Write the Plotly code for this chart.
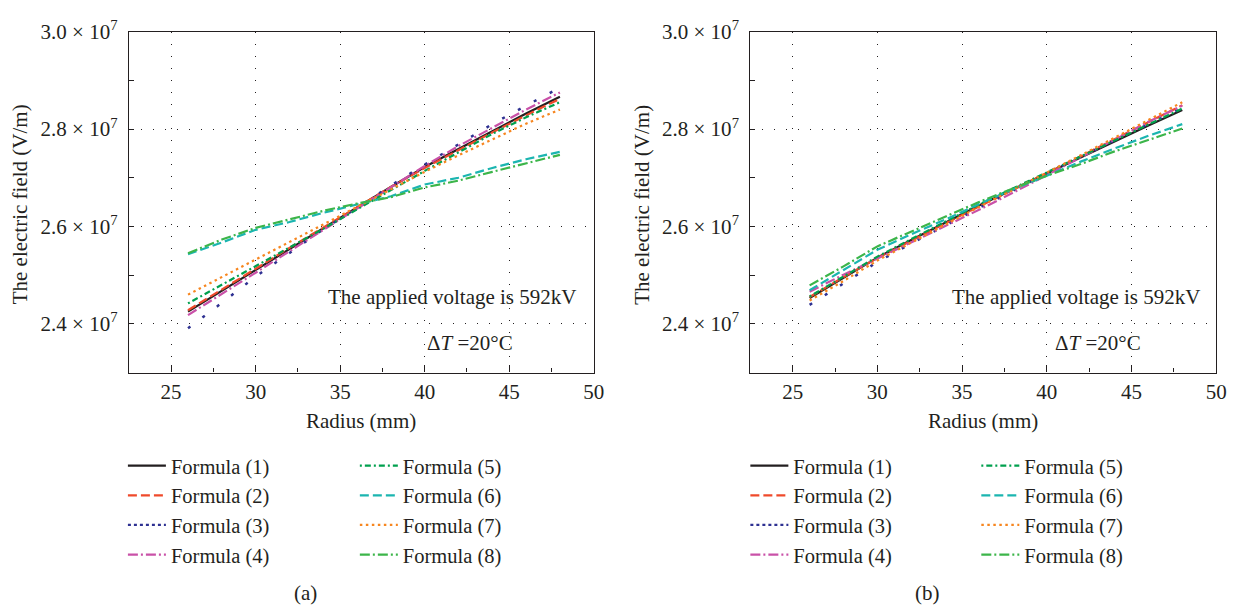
import plotly.graph_objects as go
import numpy as np

radius = [26, 28, 30, 32, 34, 36, 38, 40, 42, 44, 46, 48]
names = ["Formula (1)", "Formula (2)", "Formula (3)", "Formula (4)",
         "Formula (5)", "Formula (6)", "Formula (7)", "Formula (8)"]

# panel (a) electric field, units of 1e7 V/m
a_f1 = [2.425, 2.468, 2.511, 2.553, 2.596, 2.639, 2.681, 2.722, 2.759, 2.796, 2.832, 2.866]
a_f2 = [2.428, 2.470, 2.513, 2.556, 2.598, 2.640, 2.681, 2.720, 2.757, 2.793, 2.828, 2.862]
a_f3 = [2.391, 2.443, 2.497, 2.546, 2.594, 2.638, 2.684, 2.727, 2.769, 2.810, 2.848, 2.885]
a_f4 = [2.418, 2.461, 2.505, 2.549, 2.593, 2.637, 2.681, 2.724, 2.765, 2.803, 2.840, 2.875]
a_f5 = [2.442, 2.480, 2.518, 2.556, 2.595, 2.635, 2.675, 2.714, 2.752, 2.790, 2.824, 2.855]
a_f6 = [2.543, 2.567, 2.593, 2.609, 2.628, 2.645, 2.662, 2.686, 2.700, 2.720, 2.738, 2.753]
a_f7 = [2.460, 2.496, 2.532, 2.568, 2.604, 2.641, 2.677, 2.712, 2.746, 2.779, 2.811, 2.840]
a_f8 = [2.545, 2.573, 2.597, 2.614, 2.632, 2.647, 2.660, 2.680, 2.694, 2.712, 2.730, 2.747]

# panel (b)
b_f1 = [2.453, 2.495, 2.536, 2.572, 2.608, 2.643, 2.676, 2.709, 2.742, 2.774, 2.807, 2.839]
b_f2 = [2.455, 2.496, 2.535, 2.571, 2.606, 2.641, 2.675, 2.709, 2.744, 2.779, 2.814, 2.849]
b_f3 = [2.439, 2.483, 2.527, 2.565, 2.602, 2.638, 2.673, 2.709, 2.743, 2.777, 2.810, 2.843]
b_f4 = [2.466, 2.501, 2.534, 2.567, 2.600, 2.634, 2.669, 2.705, 2.741, 2.778, 2.815, 2.848]
b_f5 = [2.456, 2.497, 2.538, 2.574, 2.610, 2.645, 2.678, 2.711, 2.744, 2.777, 2.809, 2.842]
b_f6 = [2.469, 2.510, 2.552, 2.584, 2.614, 2.646, 2.676, 2.704, 2.733, 2.760, 2.786, 2.810]
b_f7 = [2.448, 2.488, 2.530, 2.567, 2.604, 2.640, 2.675, 2.710, 2.746, 2.782, 2.818, 2.855]
b_f8 = [2.479, 2.518, 2.559, 2.590, 2.620, 2.650, 2.678, 2.704, 2.728, 2.754, 2.778, 2.801]

x_ticks = [25, 30, 35, 40, 45, 50]
y_ticks = [2.4e7, 2.6e7, 2.8e7, 3.0e7]
y_tick_text = ["2.4 × 10<sup>7</sup>", "2.6 × 10<sup>7</sup>", "2.8 × 10<sup>7</sup>", "3.0 × 10<sup>7</sup>"]

colors = ["#231f20", "#ef4a2b", "#2e3192", "#c951a8", "#00a04e", "#1bb5b0", "#f7861f", "#3cb54a"]
dashes = ["solid", "9px,4px", "3px,15px", "10px,3px,2px,3px", "2px,3px,6px,3px", "9px,4px", "2.5px,3.5px", "10px,3px,2px,3px"]
legend_dashes = list(dashes)
legend_dashes[2] = "3px,3px"
widths = [2.2, 2.2, 2.5, 2.2, 2.2, 2.2, 2.2, 2.2]

FONT = "Liberation Serif"
fig = go.Figure()

panels = [
    ([a_f1, a_f2, a_f3, a_f4, a_f5, a_f6, a_f7, a_f8], "x", "y", ("legend", "legend2")),
    ([b_f1, b_f2, b_f3, b_f4, b_f5, b_f6, b_f7, b_f8], "x2", "y2", ("legend3", "legend4")),
]
for series, xa, ya, legs in panels:
    for i, vals in enumerate(series):
        leg = legs[0] if i < 4 else legs[1]
        yv = (np.array(vals) * 1e7).tolist()
        if i == 2:
            fig.add_trace(go.Scatter(x=radius, y=yv, mode="lines", xaxis=xa, yaxis=ya,
                                     line=dict(color=colors[i], width=widths[i], dash=dashes[i]),
                                     showlegend=False, hoverinfo="skip"))
            fig.add_trace(go.Scatter(x=[None], y=[None], mode="lines", xaxis=xa, yaxis=ya,
                                     name=names[i], legend=leg,
                                     line=dict(color=colors[i], width=2.2, dash=legend_dashes[i])))
        else:
            fig.add_trace(go.Scatter(x=radius, y=yv, mode="lines", xaxis=xa, yaxis=ya,
                                     name=names[i], legend=leg,
                                     line=dict(color=colors[i], width=widths[i], dash=dashes[i])))

W, H = 1247, 608
def px_x(p):
    return p / W
def px_y(p):
    return (H - p) / H

axis_common = dict(
    showline=True, linecolor="#231f20", linewidth=1.3, mirror=True,
    ticks="inside", tickcolor="#231f20", tickwidth=1,
    showgrid=True, gridcolor="#231f20", gridwidth=1, griddash="1px,11px",
    zeroline=False, tickfont=dict(family=FONT, size=21, color="#231f20"),
)
xaxis_cfg = dict(axis_common, range=[22.5, 50], tickvals=x_ticks, ticklen=7,
                 minor=dict(ticks="inside", ticklen=4, tickcolor="#231f20",
                            tickvals=[27.5, 32.5, 37.5, 42.5, 47.5], showgrid=False))
yaxis_cfg = dict(axis_common, range=[2.3e7, 3.0e7], tickvals=y_ticks, ticktext=y_tick_text,
                 ticklen=5, ticklabelstandoff=6,
                 minor=dict(ticks="inside", ticklen=5, tickcolor="#231f20",
                            tickvals=[2.5e7, 2.7e7, 2.9e7], showgrid=False))

fig.update_layout(
    width=W, height=H, margin=dict(l=0, r=0, t=0, b=0),
    paper_bgcolor="white", plot_bgcolor="white",
    font=dict(family=FONT, size=21, color="#231f20"),
    xaxis=dict(xaxis_cfg, domain=[px_x(130), px_x(599)], anchor="y"),
    yaxis=dict(yaxis_cfg, domain=[px_y(367), px_y(18)], anchor="x"),
    xaxis2=dict(xaxis_cfg, domain=[px_x(757), px_x(1227)], anchor="y2"),
    yaxis2=dict(yaxis_cfg, domain=[px_y(367), px_y(18)], anchor="x2"),
)

leg_common = dict(orientation="v", xanchor="left", yanchor="top", bgcolor="rgba(0,0,0,0)",
                  font=dict(family=FONT, size=20.5, color="#231f20"), itemwidth=38,
                  itemclick=False, itemdoubleclick=False)
leg_top = px_y(442)
fig.update_layout(
    legend=dict(leg_common, x=px_x(124), y=leg_top),
    legend2=dict(leg_common, x=px_x(358), y=leg_top),
    legend3=dict(leg_common, x=px_x(752), y=leg_top),
    legend4=dict(leg_common, x=px_x(985), y=leg_top),
)

ann = []
for (cx_text_right, dt_center, ytitle_x, xtitle_c, cap_x, cap) in [
        (583, 474, 20, 364, 308, "(a)"), (1213, 1108, 647, 992, 936, "(b)")]:
    ann.append(dict(text="The applied voltage is 592kV", x=px_x(cx_text_right), y=px_y(290),
                    xanchor="right", yanchor="middle"))
    ann.append(dict(text="Δ<i>T</i> =20°C", x=px_x(dt_center), y=px_y(337),
                    xanchor="center", yanchor="middle"))
    ann.append(dict(text="The electric field (V/m)", x=px_x(ytitle_x), y=px_y(195),
                    xanchor="center", yanchor="middle", textangle=-90))
    ann.append(dict(text="Radius (mm)", x=px_x(xtitle_c), y=px_y(417),
                    xanchor="center", yanchor="middle"))
    ann.append(dict(text=cap, x=px_x(cap_x), y=px_y(593), xanchor="center", yanchor="middle"))
for a in ann:
    a.update(xref="paper", yref="paper", showarrow=False,
             font=dict(family=FONT, size=21, color="#231f20"))
fig.update_layout(annotations=ann)

fig.write_html("out.html", config={"displayModeBar": False},
               post_script="document.body.style.margin='0px';document.body.style.overflow='hidden';")
